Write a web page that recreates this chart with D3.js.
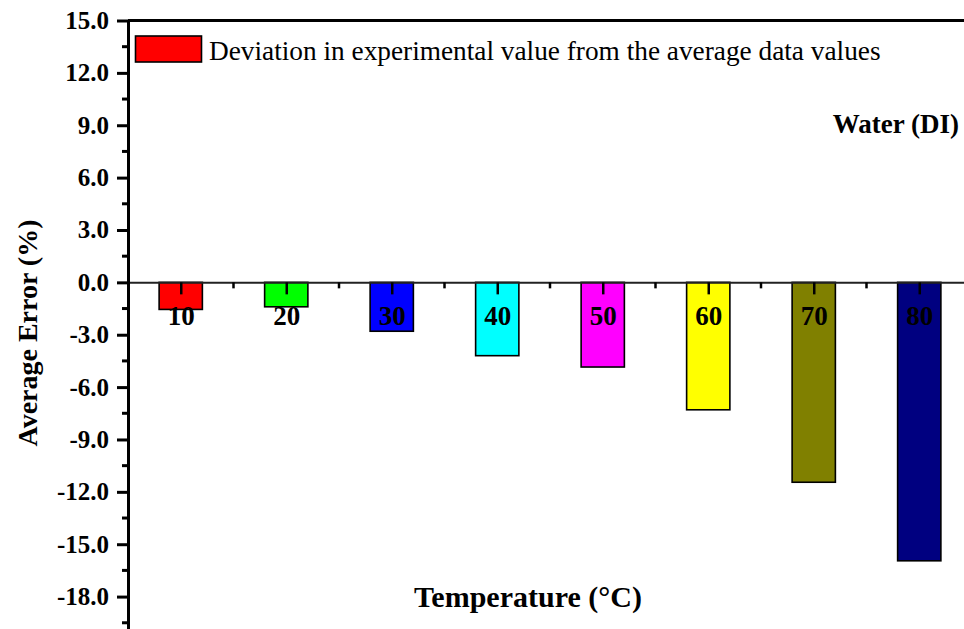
<!DOCTYPE html>
<html>
<head>
<meta charset="utf-8">
<script src="https://cdn.jsdelivr.net/npm/d3@7"></script>
<style>
  html, body { margin: 0; padding: 0; background: #fff; }
  svg { display: block; font-family: "Liberation Serif", "Times New Roman", serif; }
</style>
</head>
<body>
<svg id="chart" width="964" height="629"></svg>
<script>
// Temperatures (°C) and average error (%) of the experimental values
const temperatures = [10, 20, 30, 40, 50, 60, 70, 80];
const averageError = [-1.55, -1.4, -2.8, -4.2, -4.85, -7.3, -11.45, -15.95];
const barColors = ["#ff0000", "#00ff00", "#0000ff", "#00ffff", "#ff00ff", "#ffff00", "#808000", "#000080"];
const yMajorTicks = [15, 12, 9, 6, 3, 0, -3, -6, -9, -12, -15, -18];
const yMinorTicks = [13.5, 10.5, 7.5, 4.5, 1.5, -1.5, -4.5, -7.5, -10.5, -13.5, -16.5, -19.5];
const xMinorTicks = [15, 25, 35, 45, 55, 65, 75];

const legendLabel = "Deviation in experimental value from the average data values";
const fluidLabel = "Water (DI)";
const yTitle = "Average Error (%)";
const xTitle = "Temperature (\u00B0C)";

const serif = "'Liberation Serif', 'Times New Roman', serif";
const svg = d3.select("#chart");
const W = 964, H = 629;

const x = d3.scaleLinear().domain([5, 85]).range([128, 972]);
const y = d3.scaleLinear().domain([-20, 15]).range([631.5, 20.5]);
const barHalf = 2.05; // half bar width in temperature units

// bars
svg.append("g").selectAll("rect")
  .data(temperatures)
  .join("rect")
  .attr("x", (d) => x(d - barHalf))
  .attr("width", (d) => x(d + barHalf) - x(d - barHalf))
  .attr("y", y(0))
  .attr("height", (d, i) => y(averageError[i]) - y(0))
  .attr("fill", (d, i) => barColors[i])
  .attr("stroke", "#000")
  .attr("stroke-width", 1.6);

// zero line (bottom axis) with ticks hanging below it
const xAxis = d3.axisBottom(x)
  .tickValues(temperatures)
  .tickSize(12)
  .tickSizeOuter(0)
  .tickPadding(11)
  .tickFormat(d3.format("d"));
const gx = svg.append("g")
  .attr("transform", `translate(0,${y(0)})`)
  .call(xAxis);
gx.select(".domain").attr("stroke", "#222").attr("stroke-width", 2);
gx.selectAll(".tick line").attr("stroke", "#000").attr("stroke-width", 2.5);
gx.selectAll(".tick text")
  .attr("font-family", serif)
  .attr("font-weight", "bold")
  .attr("font-size", 27)
  .attr("fill", "#000");

svg.append("g")
  .attr("transform", `translate(0,${y(0)})`)
  .selectAll("line")
  .data(xMinorTicks)
  .join("line")
  .attr("x1", (d) => x(d)).attr("x2", (d) => x(d))
  .attr("y1", 0).attr("y2", 6)
  .attr("stroke", "#000").attr("stroke-width", 2.5);

// top frame line
svg.append("line")
  .attr("x1", x(5)).attr("x2", W)
  .attr("y1", y(15)).attr("y2", y(15))
  .attr("stroke", "#000").attr("stroke-width", 3);

// left axis (labels use a plain hyphen for the sign)
const yAxis = d3.axisLeft(y)
  .tickValues(yMajorTicks)
  .tickSize(11)
  .tickSizeOuter(0)
  .tickPadding(8)
  .tickFormat((d) => d.toFixed(1));
const gy = svg.append("g")
  .attr("transform", `translate(${x(5)},0)`)
  .call(yAxis);
gy.select(".domain").attr("stroke", "#000").attr("stroke-width", 3);
gy.selectAll(".tick line").attr("stroke", "#000").attr("stroke-width", 3);
gy.selectAll(".tick text")
  .attr("font-family", serif)
  .attr("font-weight", "bold")
  .attr("font-size", 25)
  .attr("fill", "#000");

svg.append("g")
  .attr("transform", `translate(${x(5)},0)`)
  .selectAll("line")
  .data(yMinorTicks)
  .join("line")
  .attr("x1", -6).attr("x2", 0)
  .attr("y1", (d) => y(d)).attr("y2", (d) => y(d))
  .attr("stroke", "#000").attr("stroke-width", 3);

// legend
svg.append("rect")
  .attr("x", 135.5).attr("y", 36)
  .attr("width", 66).attr("height", 26)
  .attr("fill", barColors[0])
  .attr("stroke", "#000").attr("stroke-width", 1.6);
svg.append("text")
  .attr("x", 209).attr("y", 60)
  .attr("font-family", serif)
  .attr("font-size", 27.3)
  .attr("fill", "#000")
  .text(legendLabel);

// fluid annotation
svg.append("text")
  .attr("x", 959).attr("y", 133)
  .attr("text-anchor", "end")
  .attr("font-family", serif)
  .attr("font-size", 27)
  .attr("font-weight", "bold")
  .attr("fill", "#000")
  .text(fluidLabel);

// axis titles
svg.append("text")
  .attr("transform", `translate(37,${333}) rotate(-90)`)
  .attr("text-anchor", "middle")
  .attr("font-family", serif)
  .attr("font-size", 28)
  .attr("font-weight", "bold")
  .attr("fill", "#000")
  .text(yTitle);

svg.append("text")
  .attr("x", 528).attr("y", 607)
  .attr("text-anchor", "middle")
  .attr("font-family", serif)
  .attr("font-size", 30)
  .attr("font-weight", "bold")
  .attr("fill", "#000")
  .text(xTitle);
</script>
</body>
</html>
